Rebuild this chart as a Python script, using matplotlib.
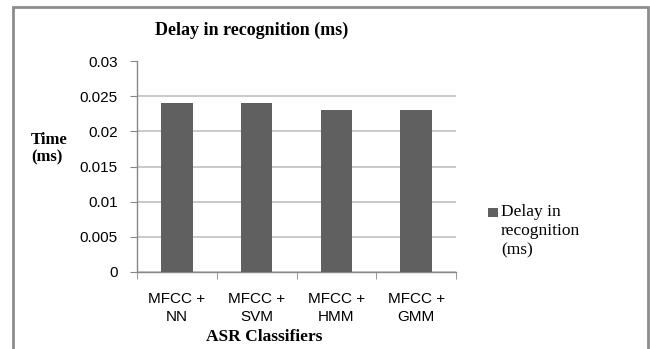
import matplotlib
matplotlib.use("Agg")
import matplotlib.pyplot as plt
from matplotlib.patches import Rectangle
from matplotlib.ticker import FuncFormatter, FixedLocator

# data
categories = ["MFCC +\nNN", "MFCC +\nSVM", "MFCC +\nHMM", "MFCC +\nGMM"]
delay_ms = [0.024, 0.024, 0.023, 0.023]
series_name = "Delay in\nrecognition\n(ms)"
y_ticks = [0, 0.005, 0.01, 0.015, 0.02, 0.025, 0.03]

W, H = 650, 349
fig = plt.figure(figsize=(W / 100, H / 100), dpi=100)

serif = "Liberation Serif"
sans = "Liberation Sans"
bar_color = "#606060"
axis_grey = "#888888"
grid_grey = "#c0c0c0"

# plot area in pixels: x 137..456, y 61.5..271.5
ax = fig.add_axes([137 / W, (H - 271.5) / H, (456 - 137) / W, 210 / H])

x = list(range(len(categories)))
bars = ax.bar(x, delay_ms, width=0.395, color=bar_color, zorder=3,
              label=series_name)

ax.set_xlim(-0.5, len(categories) - 0.5)
ax.set_ylim(0, 0.03)
ax.set_yticks(y_ticks)
ax.yaxis.set_major_formatter(FuncFormatter(lambda v, p: "%g" % v))
ax.grid(axis="y", color=grid_grey, linewidth=1.2, zorder=0)

# category labels centred, tick marks on boundaries
ax.set_xticks(x)
ax.set_xticklabels(categories, fontfamily=sans, fontsize=11, linespacing=1.3)
ax.xaxis.set_minor_locator(FixedLocator([i - 0.5 for i in range(len(categories) + 1)]))
ax.tick_params(axis="x", which="major", length=0, pad=15)
ax.tick_params(axis="x", which="minor", length=5, color=axis_grey, direction="out")
ax.tick_params(axis="y", length=5, color=axis_grey, pad=9, labelsize=11)
for lab in ax.get_yticklabels():
    lab.set_fontfamily(sans)

for s in ["top", "right"]:
    ax.spines[s].set_visible(False)
for s in ["left", "bottom"]:
    ax.spines[s].set_color(axis_grey)
    ax.spines[s].set_linewidth(1)

# titles
fig.text(252 / W, 1 - 30 / H, "Delay in recognition (ms)", fontfamily=serif,
         fontweight="bold", fontsize=13, ha="center", va="center")
fig.text(264 / W, 1 - 337 / H, "ASR Classifiers", fontfamily=serif,
         fontweight="bold", fontsize=12.5, ha="center", va="center")
fig.text(31 / W, 1 - 148.5 / H, "Time\n(ms)", fontfamily=serif,
         fontweight="bold", fontsize=12, ha="left", va="center",
         linespacing=1.15)

# legend: square next to the first line of the label
fig.patches.append(Rectangle((488 / W, 1 - 217 / H), 10 / W, 9 / H,
                             transform=fig.transFigure,
                             facecolor=bars.patches[0].get_facecolor(),
                             edgecolor="none"))
fig.text(501 / W, 1 - 204 / H, series_name, fontfamily=serif, fontsize=12.5,
         ha="left", va="top", linespacing=1.25)

# outer chart border (open at the bottom)
fig.patches.append(Rectangle((13 / W, -0.05), (648 - 13) / W, 1.05 - 7 / H,
                             transform=fig.transFigure, fill=False,
                             edgecolor="#8c8c8c", linewidth=2))

fig.savefig("out.png", dpi=100)
